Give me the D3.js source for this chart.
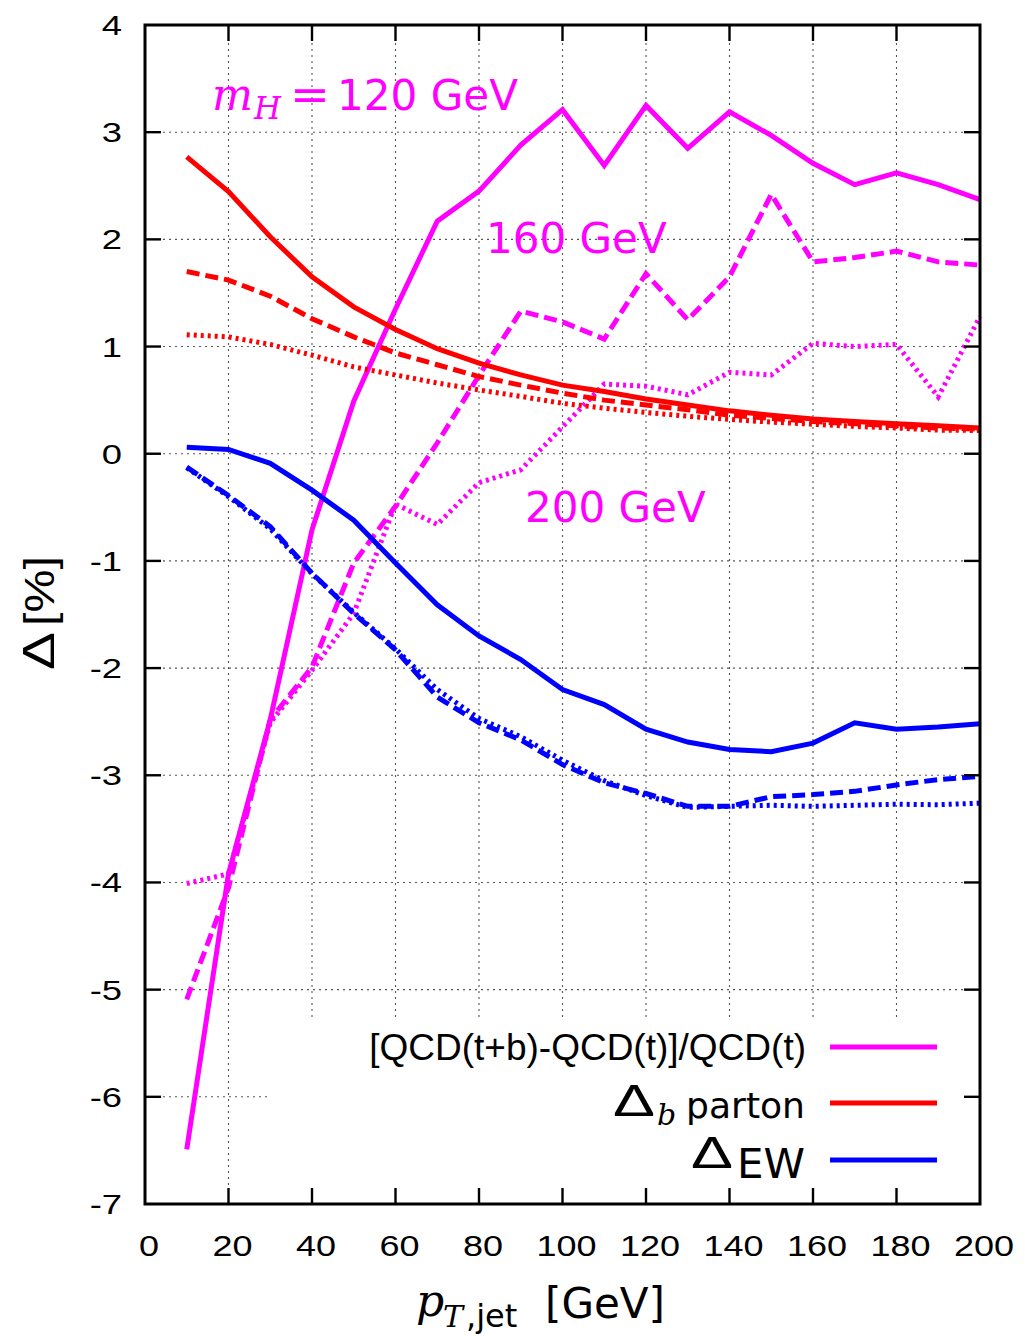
<!DOCTYPE html>
<html><head><meta charset="utf-8">
<script src="https://cdn.jsdelivr.net/npm/d3@7"></script>
<style>body{margin:0;background:#fff}</style>
</head><body><svg id="c" width="1025" height="1336"></svg>
<script>
const pt = [10,20,30,40,50,60,70,80,90,100,110,120,130,140,150,160,170,180,190,200];
const xTicks = [0,20,40,60,80,100,120,140,160,180,200];
const yTicks = [-7,-6,-5,-4,-3,-2,-1,0,1,2,3,4];
// [QCD(t+b)-QCD(t)]/QCD(t), mH = 120, 160, 200 GeV
const qcd120 = [-6.49,-3.92,-2.48,-0.71,0.49,1.35,2.17,2.45,2.88,3.21,2.69,3.25,2.85,3.19,2.97,2.71,2.51,2.62,2.51,2.37];
const qcd160 = [-5.09,-4.05,-2.48,-1.99,-1.02,-0.49,0.10,0.73,1.33,1.23,1.07,1.68,1.25,1.65,2.42,1.79,1.83,1.89,1.79,1.76];
const qcd200 = [-4.01,-3.92,-2.51,-2.02,-1.49,-0.47,-0.66,-0.27,-0.15,0.25,0.65,0.63,0.55,0.76,0.735,1.03,1.0,1.02,0.53,1.28];
// Delta_b parton
const db120 = [2.77,2.445,2.025,1.65,1.37,1.16,0.98,0.845,0.735,0.64,0.58,0.51,0.455,0.40,0.36,0.325,0.30,0.28,0.26,0.24];
const db160 = [1.70,1.62,1.47,1.26,1.09,0.94,0.83,0.72,0.64,0.565,0.50,0.455,0.41,0.36,0.33,0.30,0.28,0.26,0.24,0.23];
const db200 = [1.11,1.09,1.02,0.92,0.81,0.735,0.66,0.595,0.535,0.47,0.425,0.385,0.35,0.32,0.295,0.275,0.255,0.24,0.22,0.217];
// Delta_EW
const ew120 = [0.06,0.04,-0.09,-0.34,-0.62,-1.02,-1.41,-1.70,-1.92,-2.20,-2.34,-2.57,-2.69,-2.76,-2.78,-2.70,-2.51,-2.57,-2.55,-2.52];
const ew160 = [-0.125,-0.39,-0.68,-1.115,-1.49,-1.83,-2.27,-2.51,-2.67,-2.90,-3.07,-3.17,-3.29,-3.29,-3.20,-3.18,-3.15,-3.09,-3.04,-3.01];
const ew200 = [-0.13,-0.40,-0.70,-1.12,-1.48,-1.82,-2.20,-2.47,-2.64,-2.86,-3.05,-3.19,-3.30,-3.29,-3.28,-3.29,-3.28,-3.27,-3.275,-3.26];

const MAG = "#ff00ff", RED = "#ff0000", BLUE = "#0000ff";
const DASH = "13,6", DOT = "3,4";
const seriesList = [
  {v: qcd120, c: MAG, d: null}, {v: qcd160, c: MAG, d: DASH}, {v: qcd200, c: MAG, d: DOT},
  {v: db120, c: RED, d: null}, {v: db160, c: RED, d: DASH}, {v: db200, c: RED, d: DOT},
  {v: ew120, c: BLUE, d: null}, {v: ew160, c: BLUE, d: DASH}, {v: ew200, c: BLUE, d: DOT}
];

const L = 145, R = 980, T = 25, B = 1204;
const x = d3.scaleLinear().domain([0,200]).range([L,R]);
const y = d3.scaleLinear().domain([-7,4]).range([B,T]);
const svg = d3.select("#c");
svg.append("rect").attr("width",1025).attr("height",1336).attr("fill","#fff");

// grid
const grid = svg.append("g").attr("stroke","#555").attr("stroke-width",1.1).attr("stroke-dasharray","2,4");
xTicks.slice(1,-1).forEach(t => grid.append("line").attr("x1",x(t)).attr("x2",x(t)).attr("y1",T).attr("y2",B));
yTicks.slice(1,-1).forEach(t => grid.append("line").attr("x1",L).attr("x2",R).attr("y1",y(t)).attr("y2",y(t)));

// legend box (white, covers grid)
svg.append("rect").attr("x",268).attr("y",1020).attr("width",700).attr("height",168).attr("fill","#fff");

// curves
const line = d3.line().x((d,i)=>x(pt[i])).y(d=>y(d));
seriesList.forEach(s => {
  svg.append("path").attr("d", line(s.v)).attr("fill","none").attr("stroke",s.c)
    .attr("stroke-width",5).attr("stroke-dasharray", s.d).attr("stroke-linejoin","miter");
});

// ticks (inward, mirrored)
const tk = svg.append("g").attr("stroke","#000").attr("stroke-width",2.4);
xTicks.slice(1,-1).forEach(t => {
  tk.append("line").attr("x1",x(t)).attr("x2",x(t)).attr("y1",B).attr("y2",B-16);
  tk.append("line").attr("x1",x(t)).attr("x2",x(t)).attr("y1",T).attr("y2",T+16);
});
yTicks.slice(1,-1).forEach(t => {
  tk.append("line").attr("x1",L).attr("x2",L+16).attr("y1",y(t)).attr("y2",y(t));
  tk.append("line").attr("x1",R).attr("x2",R-16).attr("y1",y(t)).attr("y2",y(t));
});
// border
svg.append("rect").attr("x",L).attr("y",T).attr("width",R-L).attr("height",B-T)
  .attr("fill","none").attr("stroke","#000").attr("stroke-width",3);

// tick labels
const TF = "Liberation Sans, Arial, sans-serif";
yTicks.forEach(t => {
  svg.append("text").attr("transform",`translate(122,${y(t)+10}) scale(1.3,1)`)
    .attr("text-anchor","end").attr("font-family",TF).attr("font-size",28).attr("fill","#000").text(t);
});
xTicks.forEach(t => {
  svg.append("text").attr("transform",`translate(${x(t)+4},${1256}) scale(1.2,1)`)
    .attr("text-anchor","middle").attr("font-family",TF).attr("font-size",30).attr("fill","#000").text(t);
});

// helper for placed text pieces
function piece(txt, px, py, o) {
  const e = svg.append("text").attr("x",px).attr("y",py).attr("fill",o.fill||"#000")
    .attr("font-family",o.family||"DejaVu Sans").attr("font-size",o.size)
    .attr("font-style",o.style||"normal").text(txt);
  if (o.len) e.attr("textLength",o.len).attr("lengthAdjust","spacingAndGlyphs");
  if (o.anchor) e.attr("text-anchor",o.anchor);
  return e;
}

// y axis label (rotated)
const yl = svg.append("g").attr("transform","translate(54,670) rotate(-90)");
yl.append("text").attr("x",0).attr("y",0).attr("font-family",TF).attr("font-size",44)
  .attr("textLength",38).attr("lengthAdjust","spacingAndGlyphs").attr("fill","#000").text("Δ");
yl.append("text").attr("x",44).attr("y",0).attr("font-family",TF).attr("font-size",42)
  .attr("textLength",70).attr("lengthAdjust","spacingAndGlyphs").attr("fill","#000").text("[%]");

// x axis label
piece("p", 416, 1316, {family:"DejaVu Serif", style:"italic", size:44});
piece("T", 443, 1327, {family:"DejaVu Serif", style:"italic", size:30});
piece(",jet", 466, 1327, {size:32});
piece("[GeV]", 545, 1318, {size:42, len:120});

// annotations
piece("m", 212, 110, {family:"DejaVu Serif", style:"italic", size:44, fill:MAG, len:41});
piece("H", 254, 119, {family:"DejaVu Serif", style:"italic", size:31, fill:MAG});
piece("=", 290, 110, {size:44, fill:MAG, len:40});
piece("120 GeV", 337, 110, {size:42, fill:MAG, len:181});
piece("160 GeV", 486, 253, {size:42, fill:MAG});
piece("200 GeV", 525, 522, {size:42, fill:MAG});

// legend
const legendNames = ["[QCD(t+b)-QCD(t)]/QCD(t)", "Δb parton", "ΔEW"];
const legendColors = [MAG, RED, BLUE];
const legY = [1047, 1103, 1160];
legendColors.forEach((c,i) => {
  svg.append("line").attr("x1",830).attr("x2",937).attr("y1",legY[i]).attr("y2",legY[i])
    .attr("stroke",c).attr("stroke-width",5);
});
piece(legendNames[0], 806, 1060, {family:TF, size:37, anchor:"end"});
piece("Δ", 613, 1116, {family:TF, size:44, len:42});
piece("b", 657, 1125, {family:"DejaVu Serif", style:"italic", size:30});
piece("parton", 686, 1118, {size:36, len:119});
piece("Δ", 691, 1168, {family:TF, size:44, len:42});
piece("EW", 737, 1178, {size:40, len:68});
</script></body></html>
